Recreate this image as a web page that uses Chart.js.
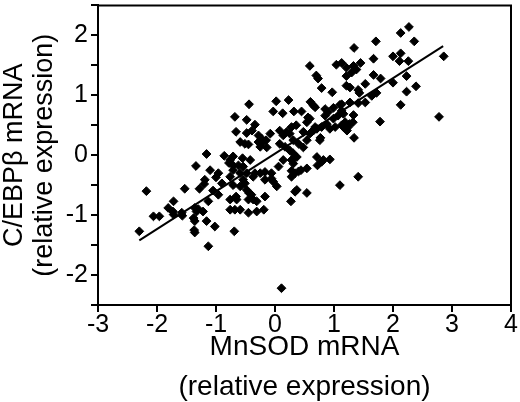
<!DOCTYPE html>
<html lang="en">

<head>
    <meta charset="UTF-8">
    <title>MnSOD vs C/EBPb</title>
    <script src="https://cdn.jsdelivr.net/npm/chart.js@4/dist/chart.umd.min.js"></script>
    <style>
        body { margin: 0; background: #fff; }
        #wrap { width: 520px; height: 402px; }
    </style>
</head>

<body>
    <div id="wrap"><canvas id="scatterChart"></canvas></div>
    <script>
        // MnSOD mRNA (x) and C/EBPb mRNA (y), relative expression
        const mnsod = [
            -2.30, -2.18, -2.06, -1.96, -1.81, -1.73, -1.72, -1.72, -1.58, -1.57,
            -1.53, -1.36, -1.33, -1.22, -1.38, -1.36, -1.16, -1.02, -1.37, -1.36,
            -1.13, -0.69, -1.13, -1.28, -1.19, -1.34, -1.10, -1.16, -0.96, -0.90,
            -1.05, -0.96, -0.86, -0.71, -0.78, -0.71, -0.55, -0.71, -0.76, -0.59,
            -0.68, -0.66, -0.48, -0.34, -0.48, -0.45, -0.44, -0.76, -0.65, -0.45,
            -0.31, -0.76, -0.68, -0.59, -0.45, -0.31, -0.66, -0.59, -0.71, -0.62,
            -0.76, -1.00, -1.20, -1.30, -0.48, -0.44, -0.40, -0.37, -0.54, -0.51,
            -0.34, -0.25, -0.17, -0.06, -0.03, 0.03, -0.17, -0.19, 0.27, 0.11,
            0.34, 0.54, 0.37, 1.10, 1.41, -0.17, -0.42, -0.54, -0.48, -0.37,
            -0.06, 0.06, 0.14, 0.31, 0.40, 0.54, 0.44, 0.28, 0.34, 0.28,
            0.71, 0.82, 0.93, 0.79, 0.72, 0.08, 0.17, 0.25, 0.31, 0.37,
            0.28, -0.59, -0.51, -0.28, -0.23, -0.20, -0.28, -0.25, -0.14, -0.08,
            0.08, 0.14, 0.25, 0.28, 0.31, 0.40, 0.48, 0.54, 0.59, 0.68,
            0.62, 0.76, 0.48, 0.54, 0.59, 0.65, 0.71, 0.79, 0.36, 0.20,
            -0.15, -0.39, -0.03, 0.13, 0.32, 0.45, 0.02, 0.23, 0.60, 0.65,
            0.68, 0.56, 0.85, 0.90, 0.99, 1.07, 1.13, 1.16, 1.02, 1.24,
            0.88, 0.93, 1.13, 1.26, 1.34, 0.77, 0.79, 0.97, 0.59, 0.70,
            0.73, 1.04, 1.13, 1.21, 1.21, 2.27, 2.13, 2.36, 1.71, 1.34,
            2.86, 2.00, 2.13, 2.11, 2.26, 1.67, 1.21, 1.33, 1.45, 1.38,
            1.30, 1.27, 1.67, 1.79, 2.23, 1.53, 1.41, 1.43, 2.00, 2.39,
            2.23, 1.64, 1.72, 1.13, 1.27, 1.41, 1.53, 2.13, 1.16, 1.33,
            1.19, 1.32, 1.22, 1.78, 2.78, 0.99, 0.85, 1.10
        ];
        const cebpb = [
            -1.27, -0.60, -1.02, -1.02, -0.88, -0.94, -0.99, -0.77, -0.96, -1.01,
            -0.56, -0.88, -0.94, -0.94, -1.05, -1.10, -1.10, -1.19, -1.25, -1.29,
            -1.52, -1.27, -0.77, -0.56, -0.41, -0.18, -0.25, 0.02, -0.30, -0.47,
            -0.59, -0.66, -0.01, -0.02, -0.13, -0.17, -0.05, -0.25, -0.36, -0.30,
            0.64, 0.39, 0.59, 0.51, 0.37, 0.18, 0.85, -0.74, -0.74, -0.74,
            -0.77, -0.91, -0.91, -0.91, -0.96, -0.94, -0.69, -0.52, -0.50, -0.17,
            -0.08, -0.37, -0.48, -0.90, -0.58, -0.63, -0.66, -0.74, -0.41, -0.47,
            -0.30, -0.30, -0.28, -0.39, -0.44, -0.52, -0.69, -0.91, -0.77, -2.22,
            -0.61, -0.63, -0.58, -0.50, -0.36, -0.41, -0.08, -0.19, -0.30, -0.36,
            -0.30, -0.19, -0.08, -0.14, -0.27, -0.22, -0.25, -0.26, -0.30, -0.36,
            -0.03, -0.08, -0.07, -0.11, -0.17, 0.19, 0.14, 0.08, 0.03, -0.03,
            -0.08, 0.22, 0.19, 0.33, 0.28, 0.22, 0.22, 0.14, 0.13, 0.36,
            0.41, 0.33, 0.36, 0.47, 0.25, 0.19, 0.39, 0.55, 0.61, 0.47,
            0.39, 0.25, 0.13, 0.25, 0.36, 0.41, 0.44, 0.47, 0.50, 0.39,
            0.25, 0.41, 0.73, 0.70, 0.73, 0.73, 0.90, 0.92, 0.89, 0.83,
            0.80, 0.63, 0.66, 0.72, 0.61, 0.66, 0.74, 0.47, 0.47, 0.47,
            0.52, 0.44, 0.50, 0.52, 0.29, 0.29, 1.12, 1.05, 1.49, 1.33,
            1.28, 1.51, 1.54, 1.32, 1.16, 2.14, 2.04, 1.90, 1.90, 1.79,
            1.65, 1.65, 1.70, 1.57, 1.57, 1.61, 1.46, 1.49, 1.54, 1.43,
            1.38, 1.13, 1.34, 1.28, 1.32, 1.19, 1.09, 1.04, 1.21, 1.15,
            1.06, 0.99, 1.04, 0.85, 0.88, 0.87, 0.88, 0.84, 0.69, 0.67,
            0.55, 0.55, 0.41, 0.56, 0.64, 0.79, 0.77, 0.84
        ];
        // regression line end points
        const fitX = [-2.30, 2.85];
        const fitY = [-1.42, 1.82];

        const fontFamily = "'Liberation Sans', Arial, Helvetica, sans-serif";

        const points = mnsod.map(function (x, i) { return { x: x, y: cebpb[i] }; });
        const fitLine = fitX.map(function (x, i) { return { x: x, y: fitY[i] }; });

        // top and right edges of the plot frame
        const framePlugin = {
            id: 'frame',
            afterDraw: function (chart) {
                const a = chart.chartArea;
                const ctx = chart.ctx;
                ctx.save();
                ctx.strokeStyle = '#000';
                ctx.lineWidth = 2;
                ctx.beginPath();
                ctx.moveTo(a.left, a.top);
                ctx.lineTo(a.right, a.top);
                ctx.lineTo(a.right, a.bottom);
                ctx.stroke();
                ctx.restore();
            }
        };

        new Chart(document.getElementById('scatterChart').getContext('2d'), {
            type: 'scatter',
            data: {
                datasets: [{
                    label: 'samples',
                    data: points,
                    pointStyle: 'rectRot',
                    pointRadius: 4.4,
                    borderWidth: 1,
                    backgroundColor: '#000',
                    borderColor: '#000'
                }, {
                    label: 'fit',
                    data: fitLine,
                    showLine: true,
                    pointRadius: 0,
                    borderColor: '#000',
                    borderWidth: 2
                }]
            },
            options: {
                responsive: true,
                maintainAspectRatio: false,
                animation: false,
                layout: { padding: { top: 4, right: 9, left: 0, bottom: 0 } },
                plugins: {
                    legend: { display: false },
                    tooltip: { enabled: false }
                },
                scales: {
                    x: {
                        min: -3,
                        max: 4,
                        border: { display: true, color: '#000', width: 2 },
                        grid: { drawOnChartArea: false, drawTicks: true, tickLength: 7, color: '#000', lineWidth: 2 },
                        ticks: {
                            stepSize: 1,
                            padding: 1,
                            color: '#000',
                            font: { family: fontFamily, size: 25, lineHeight: 1.0 }
                        },
                        title: {
                            display: true,
                            text: ['MnSOD mRNA', '(relative expression)'],
                            color: '#000',
                            font: { family: fontFamily, size: 28, lineHeight: '40px' },
                            padding: { top: 0, bottom: -5 }
                        },
                        afterFit: function (scale) {
                            scale.height = 97;
                            scale.paddingLeft = 0;
                            scale.paddingRight = 0;
                        }
                    },
                    y: {
                        min: -2.5,
                        max: 2.5,
                        border: { display: true, color: '#000', width: 2 },
                        grid: { drawOnChartArea: false, drawTicks: true, tickLength: 7, color: '#000', lineWidth: 2 },
                        ticks: {
                            stepSize: 0.5,
                            padding: 3,
                            color: '#000',
                            font: { family: fontFamily, size: 25, lineHeight: 1.0 },
                            callback: function (v) { return Number.isInteger(v) ? v : ''; }
                        },
                        title: {
                            display: true,
                            text: ['C/EBP\u03b2 mRNA', '(relative expression)'],
                            color: '#000',
                            font: { family: fontFamily, size: 27, lineHeight: '30px' },
                            padding: { top: 0, bottom: 0 }
                        },
                        afterFit: function (scale) {
                            scale.width = 98;
                            scale.paddingTop = 0;
                            scale.paddingBottom = 0;
                        }
                    }
                }
            },
            plugins: [framePlugin]
        });
    </script>
</body>

</html>
